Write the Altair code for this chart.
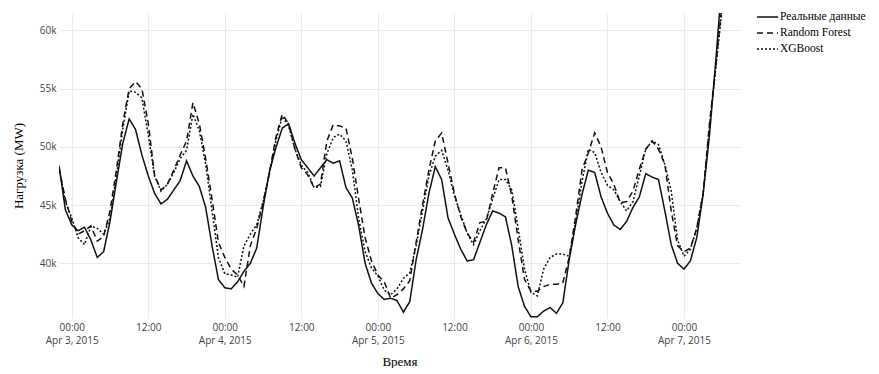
import altair as alt
import pandas as pd

start = "2015-04-02 22:00"
n_hours = 105

real = [48.4, 44.6, 43.3, 42.8, 43.1, 42.0, 40.5, 41.0, 43.6, 47.0,
        50.3, 52.4, 51.5, 49.3, 47.5, 46.0, 45.1, 45.5, 46.3, 47.1,
        48.8, 47.5, 46.6, 44.8, 41.5, 38.6, 37.9, 37.8, 38.4, 39.3,
        40.0, 41.3, 44.8, 47.9, 49.9, 51.6, 52.0, 50.3, 48.9, 48.2,
        47.5, 48.2, 48.9, 48.6, 48.8, 46.5, 45.6, 43.2, 40.0, 38.3,
        37.4, 36.9, 37.0, 36.8, 35.8, 36.7, 40.3, 42.9, 46.0, 48.3,
        47.2, 43.9, 42.5, 41.2, 40.2, 40.3, 41.8, 43.3, 44.5, 44.3,
        44.0, 41.5, 38.0, 36.3, 35.4, 35.4, 35.9, 36.2, 35.7, 36.6,
        40.3, 43.3, 45.9, 48.0, 47.8, 45.7, 44.3, 43.3, 42.9, 43.6,
        44.8, 45.7, 47.7, 47.4, 47.2, 44.5, 41.6, 40.0, 39.5, 40.2,
        42.2, 45.9, 51.0, 57.5, 64.5]

rf = [48.2, 45.5, 43.6, 42.5, 42.8, 43.2, 41.9, 42.3, 44.5, 48.0,
      52.0, 55.0, 55.6, 55.0, 52.0, 47.5, 46.3, 46.8, 48.0, 49.3,
      50.5, 53.8, 52.0, 49.0, 45.5, 41.8, 40.5, 39.5, 39.0, 38.0,
      41.5, 43.0, 45.2, 47.8, 50.8, 52.8, 52.0, 49.8, 48.2, 47.6,
      46.5, 46.8, 50.5, 51.9, 51.8, 51.6, 49.0, 45.5, 42.2, 40.2,
      39.0, 38.4, 37.0, 37.3, 37.8, 38.5, 41.8, 45.0, 48.0, 50.5,
      51.2, 48.6, 46.0, 44.0, 42.6, 41.8, 43.5, 43.6, 46.0, 48.2,
      48.2, 45.8, 42.0, 38.6, 37.6, 37.6, 38.0, 38.2, 38.2, 38.3,
      40.5, 44.0, 48.0, 49.5, 51.2, 50.0, 47.8, 46.8, 45.2, 45.3,
      46.2, 48.1, 49.8, 50.5, 49.8, 48.5, 44.5, 41.5, 41.0, 41.3,
      43.0, 46.0, 52.0, 57.0, 62.5]

xgb = [48.2, 45.3, 43.9, 42.2, 41.6, 43.2, 43.0, 42.5, 43.9, 47.5,
       51.5, 54.8, 54.7, 54.2, 51.0, 47.5, 46.2, 46.8, 47.8, 49.0,
       49.7, 52.8, 51.4, 48.5, 44.5, 40.5, 39.1, 39.0, 38.8, 41.5,
       42.5, 43.3, 45.3, 47.7, 50.5, 52.6, 51.8, 49.8, 48.4, 47.8,
       46.5, 46.6, 49.4, 50.8, 51.1, 50.5, 48.0, 43.8, 41.0, 39.6,
       38.9, 37.7, 37.3, 37.8, 38.7, 39.2, 41.5, 44.5, 47.5, 49.2,
       49.7, 48.0, 45.8, 44.2, 42.6, 41.6, 42.8, 43.8, 45.5, 47.2,
       47.2, 46.3, 43.0, 39.5, 37.5, 37.2, 39.5, 40.5, 40.8, 40.8,
       40.6, 43.5, 47.0, 49.8, 49.5, 47.8, 46.7, 46.3, 45.3, 44.5,
       45.3, 47.5, 49.8, 50.5, 50.2, 48.5, 46.2, 42.0, 40.6, 41.2,
       43.0, 46.0, 51.8, 56.8, 62.0]

series_names = ["Реальные данные", "Random Forest", "XGBoost"]
y_ticks = [40000, 45000, 50000, 55000, 60000]

times = pd.date_range(start, periods=n_hours, freq="h").strftime("%Y-%m-%dT%H:%M:%S")
rows = []
for name, vals in zip(series_names, [real, rf, xgb]):
    for t, v in zip(times, vals):
        rows.append({"time": t, "load": v * 1000, "series": name})
df = pd.DataFrame(rows)

x_ticks = [alt.DateTime(year=2015, month=4, date=d, hours=h)
           for d in range(3, 8) for h in (0, 12)][:-1]

label_expr = ("hours(datum.value) == 0 ? ['00:00', timeFormat(datum.value, '%b %-d, %Y')]"
              " : timeFormat(datum.value, '%H:%M')")

chart = alt.Chart(df).mark_line(strokeWidth=1.5, color="#111", clip=True).encode(
    x=alt.X("time:T",
            scale=alt.Scale(domain=[alt.DateTime(year=2015, month=4, date=2, hours=22),
                                    alt.DateTime(year=2015, month=4, date=7, hours=8, minutes=47)]),
            axis=alt.Axis(title="Время", values=x_ticks, labelExpr=label_expr,
                          grid=True, gridColor="#ebebeb", domain=False, ticks=False,
                          labelFont="Open Sans", labelFontSize=10, labelColor="#444",
                          labelPadding=4, labelAngle=0, labelLineHeight=13,
                          titleFont="Liberation Serif", titleFontSize=13, titleFontWeight="normal",
                          titleColor="#000", titlePadding=10)),
    y=alt.Y("load:Q",
            scale=alt.Scale(domain=[35300, 61500], nice=False, zero=False),
            axis=alt.Axis(title="Нагрузка (MW)", values=y_ticks,
                          labelExpr="(datum.value/1000) + 'k'",
                          grid=True, gridColor="#ebebeb", domain=False, ticks=False,
                          labelFont="Open Sans", labelFontSize=10, labelColor="#444",
                          labelPadding=3,
                          titleFont="Liberation Serif", titleFontSize=13, titleFontWeight="normal",
                          titleColor="#000", titlePadding=14)),
    strokeDash=alt.StrokeDash("series:N",
                              scale=alt.Scale(domain=series_names,
                                              range=[[1, 0], [6, 4], [2, 2]]),
                              legend=alt.Legend(title=None, orient="none", legendX=697, legendY=-4,
                                                symbolType="stroke", symbolStrokeColor="#111",
                                                symbolStrokeWidth=1.5, symbolSize=441,
                                                clipHeight=16,
                                                labelFont="Liberation Serif", labelFontSize=11.5,
                                                labelColor="#000", labelOffset=1, rowPadding=0)),
    order=alt.Order("time:T"),
).properties(
    width=681, height=305,
    autosize=alt.AutoSizeParams(type="none"),
    padding={"left": 51, "top": 5, "right": 131, "bottom": 50},
).configure_view(stroke=None)

chart.save("out.html", embed_options={"renderer": "svg", "actions": False})
